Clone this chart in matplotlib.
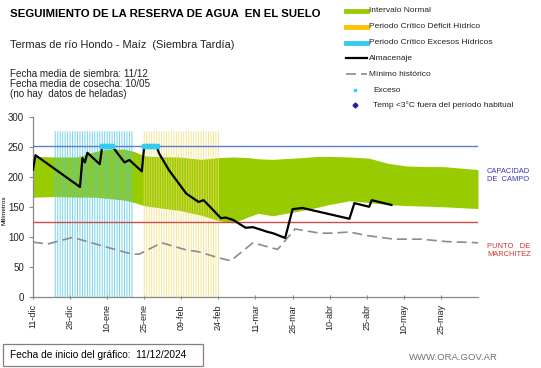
import numpy as np
import matplotlib
matplotlib.use('Agg')
from matplotlib import pyplot as plt
from matplotlib.lines import Line2D
from matplotlib.patches import Rectangle

plt.rcParams['font.family'] = ['Liberation Sans', 'DejaVu Sans']

########
# DATA #
########

# days counted from 11/12/2024
tick_days = [0, 15, 30, 45, 60, 75, 90, 105, 120, 135, 150, 165]
tick_labels = ['11-dic', '26-dic', '10-ene', '25-ene', '09-feb', '24-feb',
               '11-mar', '26-mar', '10-abr', '25-abr', '10-may', '25-may']

capacidad_campo = 252
punto_marchitez = 125

# normal interval (green band)
band_days = [0, 9, 18, 25, 30, 37, 41, 45, 48, 59, 68, 75, 81, 87, 91, 97,
             109, 115, 119, 128, 136, 143, 146, 151, 159, 166, 180]
band_upper = [235, 234, 234, 243, 247, 247, 243, 236, 235, 234, 230, 233, 234,
              233, 231, 230, 233, 235, 235, 234, 232, 224, 222, 219, 218, 218, 213]
band_lower = [167, 168, 167, 167, 165, 162, 158, 153, 151, 145, 137, 128, 124,
              134, 140, 136, 145, 150, 154, 161, 158, 155, 154, 153, 152, 151, 148]

# critical periods (one bar per day)
exceso_days = list(range(9, 41))
deficit_days = list(range(45, 76))
critico_alto = 277

# soil water storage
alm_days = [0, 1, 19, 20, 21, 22, 27, 28, 32, 37, 39, 44, 45, 50, 51, 55, 62,
            67, 69, 73, 76, 78, 81, 86, 89, 95, 97, 102, 105, 109, 128, 130,
            136, 137, 145]
alm_mm = [213, 237, 184, 232, 225, 241, 222, 252, 252, 225, 229, 210, 252, 252,
          240, 212, 173, 159, 162, 145, 132, 133, 129, 116, 117, 109, 107, 99,
          147, 149, 131, 157, 151, 162, 154]

# excess days (storage at field capacity)
exc_days = [28, 29, 30, 31, 32, 45, 46, 47, 48, 49, 50]
exc_mm = [252] * len(exc_days)

# historical minimum
min_days = [0, 6, 16, 27, 40, 43, 52, 62, 67, 75, 80, 89, 97, 99, 106, 116,
            121, 128, 135, 146, 157, 167, 180]
min_mm = [92, 89, 100, 87, 72, 72, 91, 79, 76, 66, 61, 91, 82, 80, 114, 107,
          107, 109, 103, 97, 97, 93, 91]

########
# PLOT #
########

W, H = 541., 368.
fig = plt.figure(figsize=(5.41, 3.68), dpi=100)
ax = fig.add_axes([0.061, 0.192, 0.8225, 0.489])

ax.fill_between(band_days, band_lower, band_upper, color='#99cc00',
                lw=0, zorder=1)
bb = ax.bar(exceso_days, critico_alto, width=0.42, color='#4fc6e6',
            alpha=0.75, lw=0, zorder=2)
for p in bb:
    p.set_snap(False)
bb = ax.bar(deficit_days, critico_alto, width=0.42, color='#f2dd6e',
            alpha=0.7, lw=0, zorder=2)
for p in bb:
    p.set_snap(False)
ax.axhline(capacidad_campo, color='#5b7fc9', lw=1, zorder=3)
ax.axhline(punto_marchitez, color='#c9504a', lw=1, zorder=3)
ax.plot(min_days, min_mm, color='#8c8c8c', lw=1.2, dashes=(6, 3), zorder=3)
ax.plot(alm_days, alm_mm, color='k', lw=1.6, zorder=4)
ax.plot(exc_days, exc_mm, 's', color='#33ccee', ms=2.2, zorder=5)

ax.set_xlim(0, 180)
ax.set_ylim(0, 300)
ax.set_yticks(np.arange(0, 301, 50))
ax.set_xticks(tick_days)
ax.set_xticklabels(tick_labels, rotation=90, fontsize=6.5, color='#222222')
ax.tick_params(axis='y', labelsize=7, colors='#222222', length=3,
               width=0.8)
ax.tick_params(axis='x', length=3, width=0.8, direction='inout')
ax.tick_params(axis='y', color='#888888')
ax.tick_params(axis='x', color='#888888')
for s in ['top', 'right']:
    ax.spines[s].set_visible(False)
for s in ['left', 'bottom']:
    ax.spines[s].set_color('#888888')
    ax.spines[s].set_linewidth(0.9)
fig.text(4.5/W, 1-210/H, 'Milímetros', fontsize=4.6, rotation=90,
         ha='center', va='center')

# texts
fig.text(10/W, 1-14/H, 'SEGUIMIENTO DE LA RESERVA DE AGUA  EN EL SUELO',
         fontsize=8.2, fontweight='bold', va='center')
fig.text(10/W, 1-45/H, 'Termas de río Hondo - Maíz  (Siembra Tardía)',
         fontsize=7.9, va='center', color='#222222')
fig.text(10/W, 1-84/H, 'Fecha media de siembra: 11/12\n'
         'Fecha media de cosecha: 10/05\n(no hay  datos de heladas)',
         fontsize=7.1, va='center', color='#222222', linespacing=1.05)

fig.text(487/W, 1-175/H, 'CAPACIDAD\nDE  CAMPO', fontsize=5.4,
         color='#3838b0', va='center', linespacing=1.2)
fig.text(487/W, 1-251/H, 'PUNTO   DE\nMARCHITEZ', fontsize=5.4,
         color='#cc3333', va='center', linespacing=1.2)

fig.add_artist(Rectangle((3/W, 1-366/H), 200/W, 22/H, transform=fig.transFigure,
                         fc='white', ec='#8b7b7b', lw=0.9))
fig.text(10/W, 1-355/H, 'Fecha de inicio del gráfico:  11/12/2024',
         fontsize=7.3, va='center')
fig.text(498/W, 1-357/H, 'WWW.ORA.GOV.AR', fontsize=6.8, ha='right',
         va='center', color='#707070')

# legend (drawn by hand in figure coordinates)
leg_labels = ['Intervalo Normal', 'Periodo Crítico Déficit Hídrico',
              'Periodo Crítico Excesos Hídricos', 'Almacenaje',
              'Mínimo histórico', 'Exceso',
              'Temp <3°C fuera del período habitual']
leg_y = [11, 27, 43, 58, 74, 90, 105]
for i, (lab, yy) in enumerate(zip(leg_labels, leg_y)):
    yf = 1 - yy/H
    x0, x1 = 346/W, 367/W
    if i == 0:
        fig.add_artist(Line2D([x0, x1], [yf, yf], color='#99cc00', lw=3.5))
    elif i == 1:
        fig.add_artist(Line2D([x0, x1], [yf, yf], color='#ffc000', lw=3.5))
    elif i == 2:
        fig.add_artist(Line2D([x0, x1], [yf, yf], color='#33ccee', lw=3.5))
    elif i == 3:
        fig.add_artist(Line2D([x0, x1], [yf, yf], color='k', lw=1.6))
    elif i == 4:
        fig.add_artist(Line2D([x0, x1], [yf, yf], color='#8c8c8c', lw=1.2,
                              dashes=(6, 3)))
    elif i == 5:
        fig.add_artist(Line2D([355/W], [yf], marker='s', color='#33ccee',
                              ms=2, lw=0))
    else:
        fig.add_artist(Line2D([355/W], [yf], marker='D', color='#1f1fa0',
                              ms=2.5, lw=0))
    tx = 369/W if i < 5 else 373/W
    fig.text(tx, yf, lab, fontsize=6, va='center', color='#222222')

plt.savefig('out.png', dpi=100)
plt.close()
